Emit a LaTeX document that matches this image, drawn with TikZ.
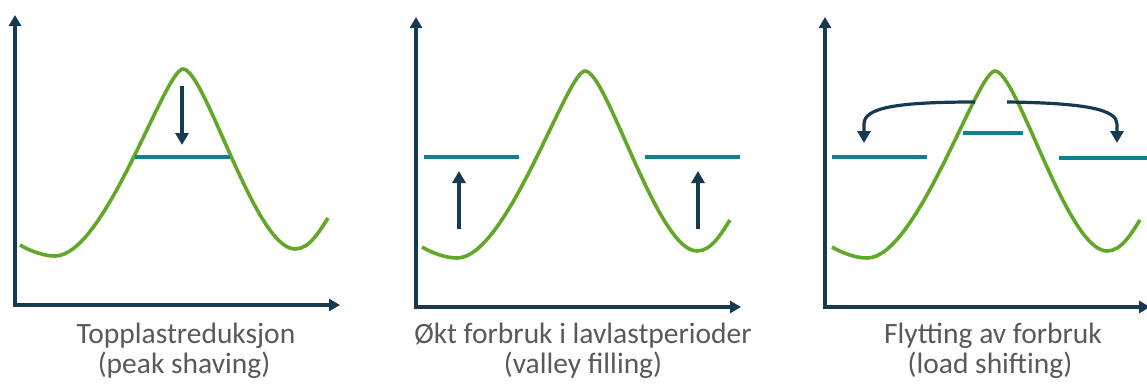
\documentclass[tikz,border=0pt]{standalone}
\usepackage{fontspec}
\setmainfont{Carlito}
\usetikzlibrary{arrows.meta}
\definecolor{navy}{HTML}{163A52}
\definecolor{teal}{HTML}{13808F}
\definecolor{lgreen}{HTML}{62A828}
\definecolor{tgray}{HTML}{595959}
\tikzset{
  axis/.style={draw=navy, line width=3.4pt, -{Triangle[width=12pt,length=11pt]}},
  load/.style={draw=lgreen, line width=3.6pt},
  level/.style={draw=teal, line width=3.4pt},
  shiftarrow/.style={draw=navy, line width=3.2pt, -{Triangle[width=13pt,length=12pt]}},
  caption/.style={text=tgray, font=\fontsize{29.5}{35}\selectfont, anchor=base, inner sep=0pt}
}
\begin{document}
\begin{tikzpicture}[x=1pt,y=-1pt]
\useasboundingbox (0,0) rectangle (1147,383);
\foreach \dx/\dy in {0/0, 402/2, 812/2} {
  \begin{scope}[shift={(\dx,\dy)}]
    \draw[load] (20,245) .. controls (32,252) and (45,256) .. (55,256)
      .. controls (105,256) and (165,69) .. (183,69)
      .. controls (205,69) and (255,249) .. (295,249)
      .. controls (310,249) and (320,230) .. (328,218);
  \end{scope}
}
% panel 1
\coordinate (o1) at (15,305);
\coordinate (y1) at (15,15);
\coordinate (x1) at (340,305);
\draw[axis] (o1) -- (y1);
\draw[axis] ([xshift=-1.7pt]o1) -- (x1);
\coordinate (l1a) at (135,157);
\coordinate (l1b) at (230,157);
\draw[level] (l1a) -- (l1b);
\coordinate (a1s) at (182,86);
\coordinate (a1e) at (182,145);
\draw[shiftarrow] (a1s) -- (a1e);
\node[caption] (c1a) at (186,343) {Topplastreduksjon};
\node[caption] (c1b) at (184,373) {(peak shaving)};
% panel 2
\coordinate (o2) at (416,307);
\coordinate (y2) at (416,17);
\coordinate (x2) at (741,307);
\draw[axis] (o2) -- (y2);
\draw[axis] ([xshift=-1.7pt]o2) -- (x2);
\coordinate (l2a) at (424,157);
\coordinate (l2b) at (519,157);
\coordinate (l2c) at (645,157);
\coordinate (l2d) at (740,157);
\draw[level] (l2a) -- (l2b);
\draw[level] (l2c) -- (l2d);
\coordinate (a2s) at (459,229);
\coordinate (a2e) at (459,171);
\coordinate (a3s) at (698,229);
\coordinate (a3e) at (698,171);
\draw[shiftarrow] (a2s) -- (a2e);
\draw[shiftarrow] (a3s) -- (a3e);
\node[caption] (c2a) at (583,343) {Økt forbruk i lavlastperioder};
\node[caption] (c2b) at (583,373) {(valley filling)};
% panel 3
\coordinate (o3) at (825,307);
\coordinate (y3) at (825,17);
\coordinate (x3) at (1150,307);
\draw[axis] (o3) -- (y3);
\draw[axis] ([xshift=-1.7pt]o3) -- (x3);
\coordinate (l3a) at (832,157);
\coordinate (l3b) at (927,157);
\coordinate (l3c) at (963,133);
\coordinate (l3d) at (1023,133);
\coordinate (l3e) at (1059,158);
\coordinate (l3f) at (1150,158);
\draw[level] (l3a) -- (l3b);
\draw[level] (l3c) -- (l3d);
\draw[level] (l3e) -- (l3f);
\coordinate (b1s) at (975,102);
\coordinate (b1e) at (864,143);
\coordinate (b2s) at (1007,102);
\coordinate (b2e) at (1117,143);
\draw[shiftarrow] (b1s) .. controls (895,102) and (864,108) .. (864,124) -- (b1e);
\draw[shiftarrow] (b2s) .. controls (1088,103) and (1117,110) .. (1117,124) -- (b2e);
\node[caption] (c3a) at (993,343) {Flytting av forbruk};
\node[caption] (c3b) at (990,373) {(load shifting)};
\end{tikzpicture}
\end{document}
